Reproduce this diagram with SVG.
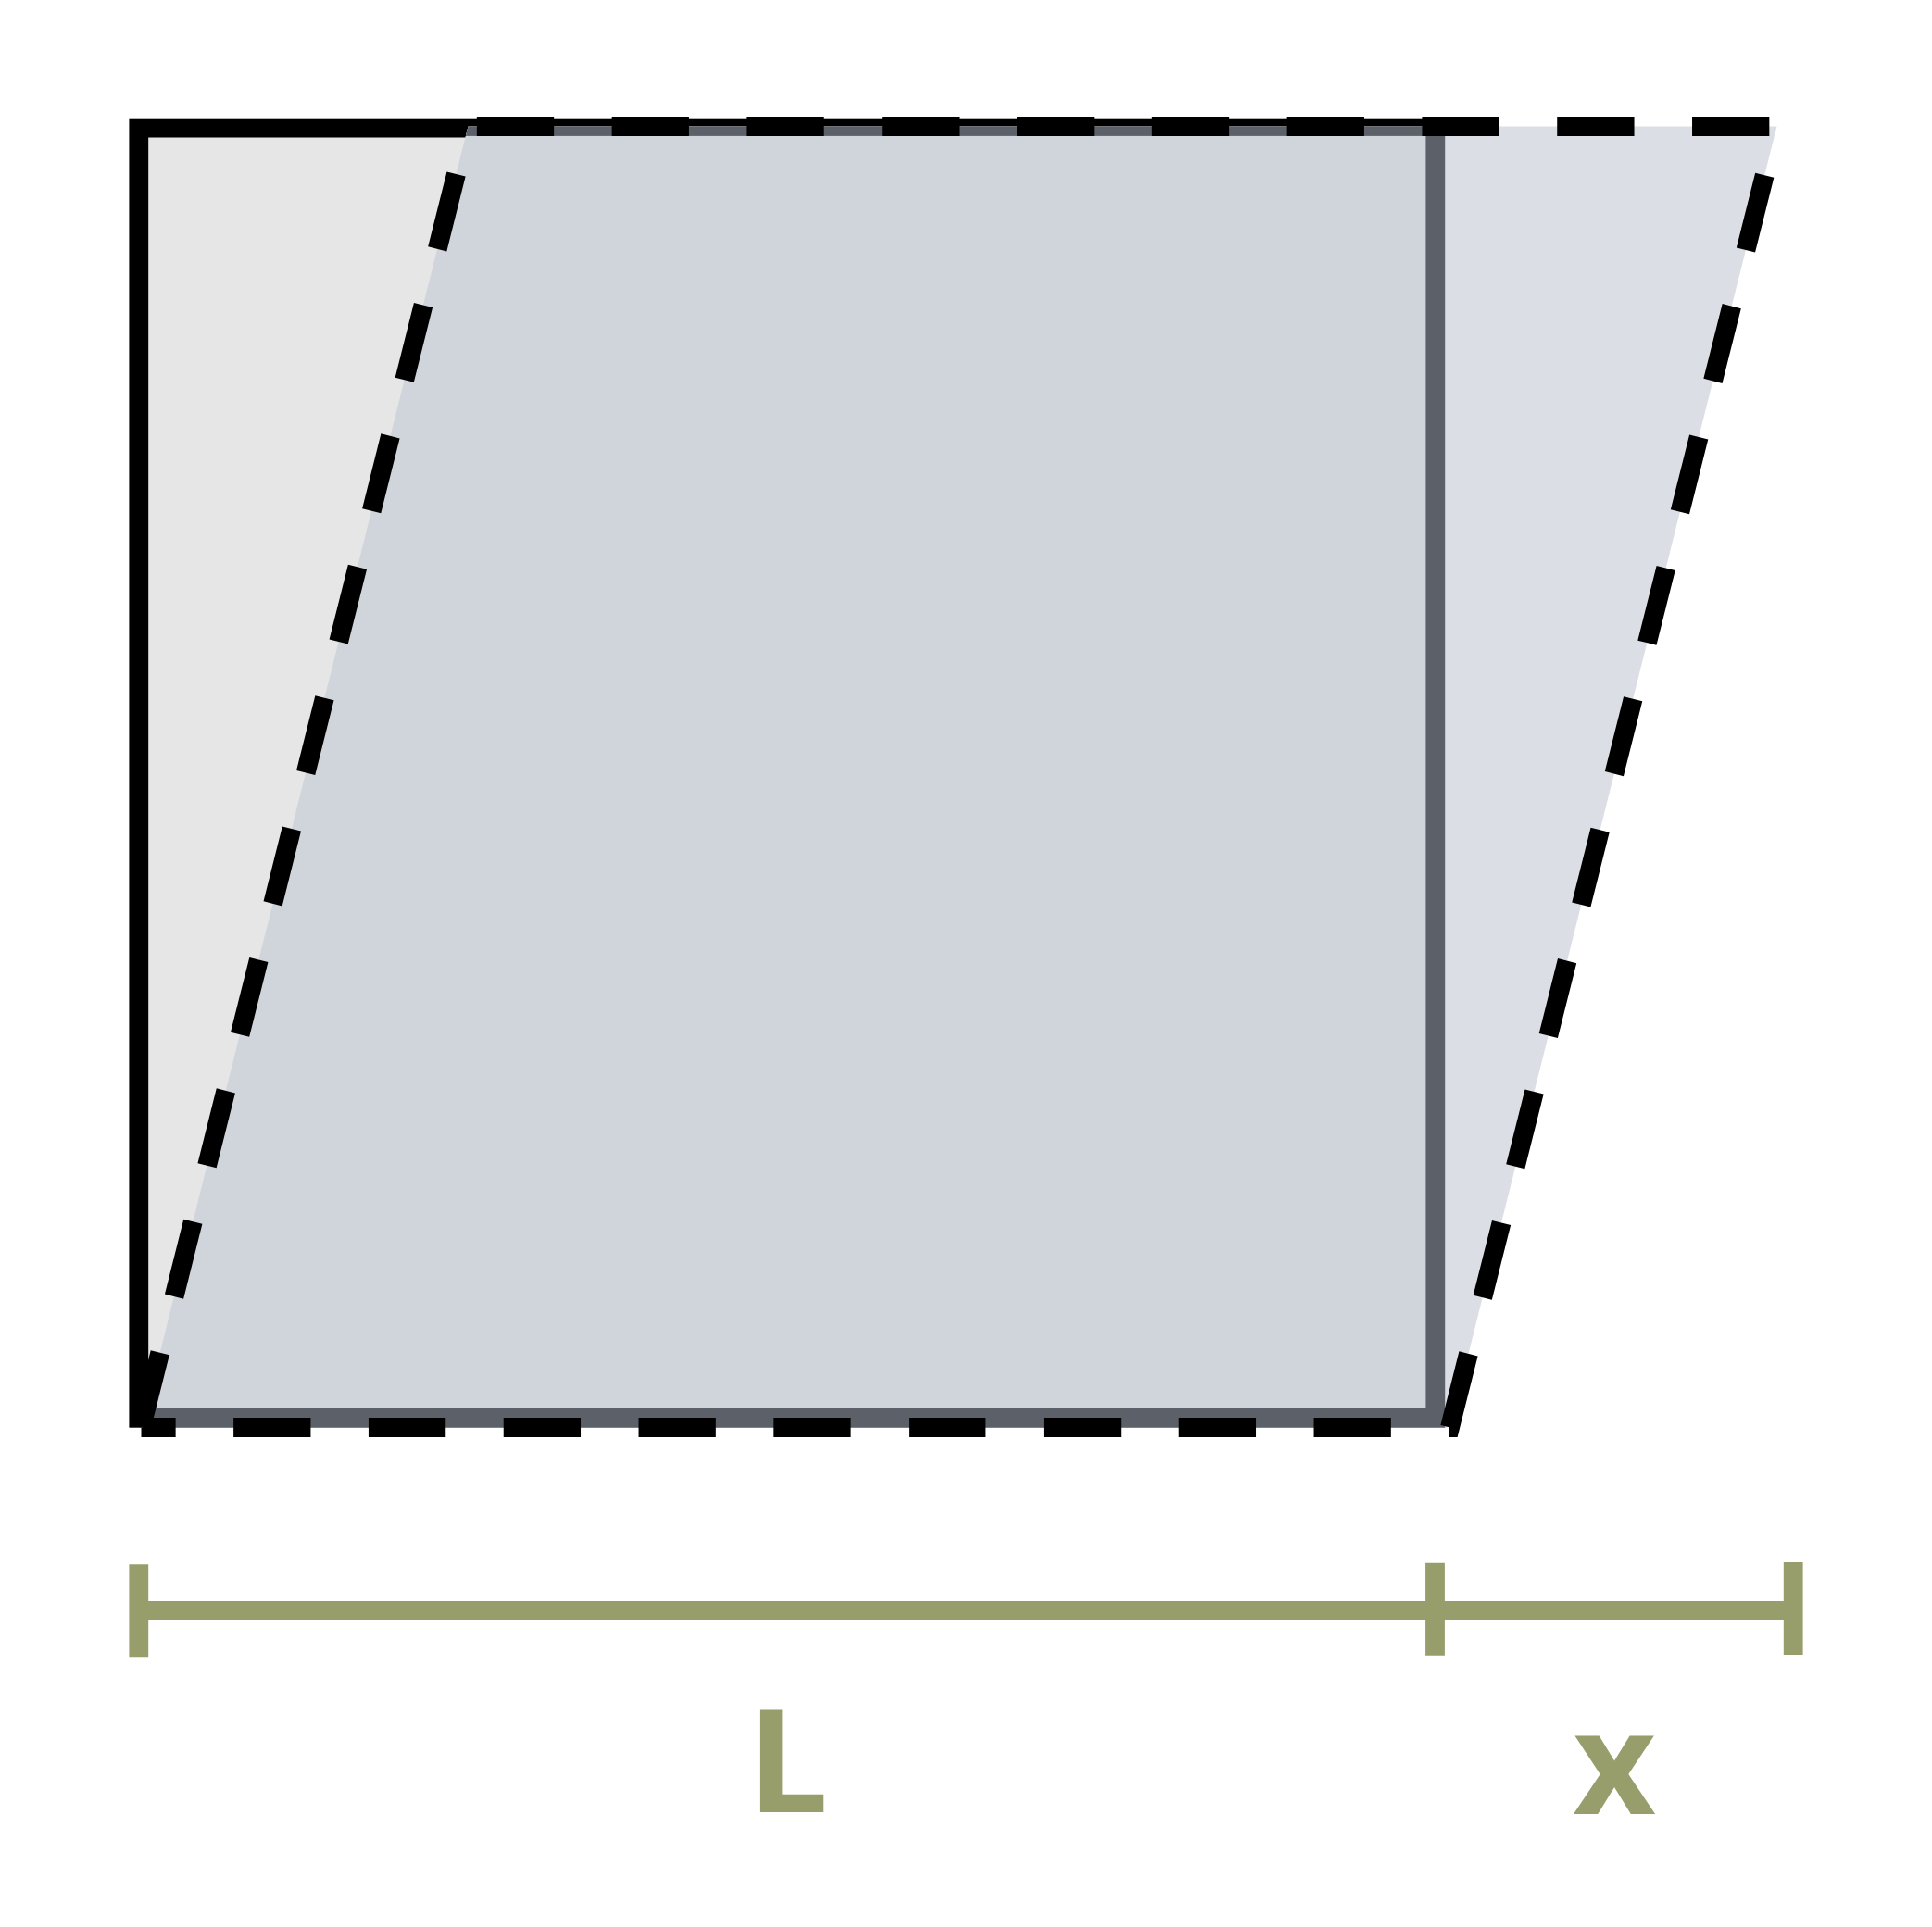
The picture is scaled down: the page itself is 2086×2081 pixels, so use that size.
<svg xmlns="http://www.w3.org/2000/svg" width="2086" height="2081" viewBox="0 0 2086 2081">
  <style>
    .dim { stroke: #989e6b; stroke-width: 20.8; fill: none; }
    .lbl { font-family: "Open Sans", "Noto Sans", "Liberation Sans", sans-serif; font-weight: bold; font-size: 155px; fill: #989e6b; }
  </style>
  <defs>
    <clipPath id="para-clip">
      <polygon points="152.5,1541.5 505.5,136.5 1918.5,136.5 1565.5,1541.5"/>
    </clipPath>
  </defs>
  <rect width="2086" height="2081" fill="#ffffff"/>
  <g id="square">
    <rect x="149.8" y="138.1" width="1400" height="1393.2" fill="#e6e6e6" stroke="#000000" stroke-width="20.8"/>
  </g>
  <g id="parallelogram-fill">
    <polygon points="152.5,1541.5 505.5,136.5 1918.5,136.5 1565.5,1541.5" fill="#dbdfe5"/>
  </g>
  <g id="overlap" clip-path="url(#para-clip)">
    <rect x="149.8" y="136.5" width="1400" height="1394.8" fill="#d0d5dc" stroke="#5c6169" stroke-width="20.8"/>
  </g>
  <g id="parallelogram-outline">
    <path d="M152.5,1541.5 L505.5,136.5 L1918.5,136.5 L1565.5,1541.5 L152.5,1541.5" fill="none" stroke="#000000" stroke-width="20.8" stroke-dasharray="83.3 62.5" stroke-linejoin="miter"/>
  </g>
  <g id="dimensions">
    <line class="dim" x1="149.8" y1="1739.3" x2="1936.2" y2="1739.3"/>
    <line class="dim" x1="149.8" y1="1689.3" x2="149.8" y2="1789.3"/>
    <line class="dim" x1="1549.5" y1="1687.7" x2="1549.5" y2="1787.7"/>
    <line class="dim" x1="1936.2" y1="1687" x2="1936.2" y2="1787"/>
  </g>
  <g id="label-L">
    <text class="lbl" x="807" y="1956.7">L</text>
  </g>
  <g id="label-x">
    <text class="lbl" x="1743" y="1959.3" text-anchor="middle">x</text>
  </g>
</svg>
